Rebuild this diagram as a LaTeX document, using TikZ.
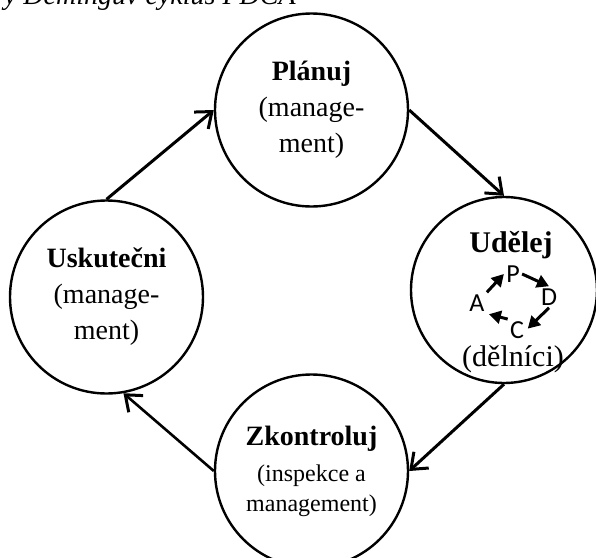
\documentclass[tikz,border=0pt]{standalone}
\usepackage{fontspec}
\setmainfont{Liberation Serif}
\newfontfamily\pdcafont{Carlito}
\usetikzlibrary{arrows.meta}
\usetikzlibrary{positioning}

\begin{document}
\begin{tikzpicture}[x=0.5pt,y=-0.5pt,
    phase/.style={draw,circle,line width=1.2pt,inner sep=0pt,align=center,
      minimum size=96.5pt,font=\fontsize{14}{18}\selectfont},
    flow/.style={line width=1.5pt,-{Straight Barb[length=7pt,width=11pt,line width=1.5pt]}},
    letter/.style={inner sep=1pt,font=\pdcafont\fontsize{13}{15}\selectfont},
    mini/.style={line width=1.5pt,-{Triangle[length=6pt,width=6.5pt]}}]
              \useasboundingbox (0,0) rectangle (596,558);

              \node[anchor=base west,font=\itshape\fontsize{14}{16}\selectfont]
              (caption) at (-3,4) {y Demingův cyklus PDCA};

              \node[phase] (plan) at (311.5,110) {\textbf{Plánuj}\\(manage-\\ment)};
              \node[phase,minimum size=93pt] (do) at (504,290) {};
              \node[phase] (check) at (311.5,471)
              {\textbf{Zkontroluj}\\{\fontsize{12}{15}\selectfont(inspekce a}\\[-3pt]
              {\fontsize{12}{15}\selectfont management)}};
              \node[phase] (act) at (106.5,297) {\textbf{Uskutečni}\\(manage-\\ment)};

              \node[anchor=base,font=\bfseries\fontsize{15}{18}\selectfont] (dotitle) at (511,252) {Udělej};
              \node[anchor=base,font=\fontsize{15}{18}\selectfont] (doworkers) at (513,366) {(dělníci)};

              \node[letter] (P) at (513,274) {P};
              \node[letter] (D) at (549,297) {D};
              \node[letter] (C) at (517,330) {C};
              \node[letter] (A) at (477,303) {A};

              \draw[mini] (A.north east) -- (P.west);
              \draw[mini] (P.east) -- (D.north);
              \draw[mini,shorten >=1pt] (D.south) -- (C.east);
              \draw[mini,shorten >=1pt] (C.north west) -- (A.south east);

              \draw[flow] (act.north) -- (plan.west);
              \draw[flow] (plan.east) -- (do.north);
              \draw[flow] (do.south) -- (check.east);
              \draw[flow,line width=1.3pt] (check.west) -- (act.280);
            \end{tikzpicture}
\end{document}
